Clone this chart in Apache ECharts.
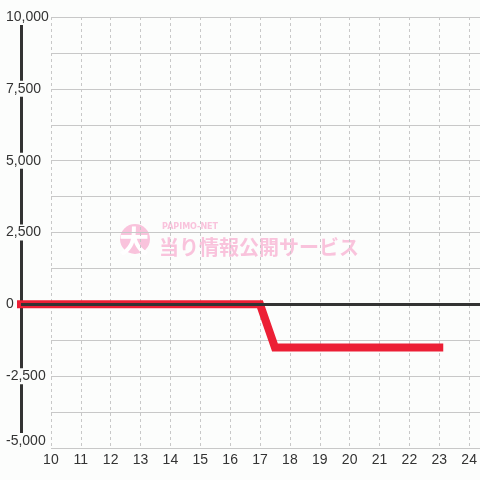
<!DOCTYPE html>
<html>
<head>
<meta charset="utf-8">
<script src="https://cdn.jsdelivr.net/npm/echarts@6/dist/echarts.min.js"></script>
<style>
  html, body { margin: 0; padding: 0; background: #fcfdfc; }
  #main { width: 480px; height: 480px; }
</style>
</head>
<body>
<div id="main"></div>
<script>
  // data
  const hours = [9, 17, 17.5, 23];
  const balance = [0, 0, -1500, -1500];
  const yMin = -5000, yMax = 10000, yStep = 2500, gridStep = 1250;
  const xMin = 9, xMax = 25;
  const xLabelFrom = 10, xLabelTo = 24;

  const bg = '#fcfdfc';
  const font = 'Liberation Sans, Arial, sans-serif';
  const pink = '#f9c3dc';

  let chart = echarts.init(document.getElementById('main'));
  let option = {
    backgroundColor: bg,
    animation: false,
    grid: [
      { left: 21, right: -19, top: 17, bottom: 32, outerBoundsMode: 'none' },
      { left: 51, right: 0, top: 17, bottom: 32, outerBoundsMode: 'none' }
    ],
    xAxis: [{
      type: 'value',
      gridIndex: 0,
      min: xMin,
      max: xMax,
      interval: 1,
      axisLine: { show: false },
      axisTick: { show: false },
      axisLabel: {
        margin: 5,
        fontSize: 14,
        color: '#333',
        fontFamily: font,
        formatter: v => (v >= xLabelFrom && v <= xLabelTo) ? String(v) : ''
      },
      splitLine: { lineStyle: { color: '#c8c8c8', type: [3, 3], width: 1 } }
    }, {
      type: 'value',
      gridIndex: 1,
      min: 0,
      max: 1,
      show: false
    }],
    yAxis: [{
      type: 'value',
      gridIndex: 0,
      min: yMin,
      max: yMax,
      interval: yStep,
      axisLine: { show: true, lineStyle: { color: '#333', width: 3 } },
      axisTick: { show: false },
      splitLine: { show: false },
      axisLabel: {
        margin: 15,
        align: 'left',
        fontSize: 14,
        color: '#333',
        fontFamily: font,
        backgroundColor: bg,
        padding: [1, 0, 1, 0],
        formatter: v => {
          let s = v.toLocaleString('en-US');
          return v === yMin ? '{low|' + s + '}' : s;
        },
        rich: {
          low: { fontSize: 14, color: '#333', fontFamily: font, padding: [0, 0, 14, 0] }
        }
      }
    }, {
      // gridlines only, starting at x = 10
      type: 'value',
      gridIndex: 1,
      min: yMin,
      max: yMax,
      interval: gridStep,
      axisLine: { show: false },
      axisTick: { show: false },
      axisLabel: { show: false },
      splitLine: { lineStyle: { color: '#c8c8c8', width: 1 } }
    }],
    graphic: [
      { type: 'circle', z: -1, shape: { cx: 135, cy: 239, r: 15 }, style: { fill: pink } },
      { type: 'text', z: -1, x: 134, y: 241, style: { text: '大', fill: '#fff', font: 'bold 30px "Noto Sans CJK JP"', align: 'center', verticalAlign: 'middle' } },
      { type: 'text', z: -1, x: 162, y: 227, style: { text: 'PAPIMO-NET', fill: pink, font: 'bold 8px "DejaVu Sans"', verticalAlign: 'middle' } },
      { type: 'text', z: -1, x: 159, y: 247, style: { text: '当り情報公開サービス', fill: pink, font: 'bold 20px "Noto Sans CJK JP"', verticalAlign: 'middle' } }
    ],
    series: [{
      // zero line
      type: 'line',
      xAxisIndex: 0,
      yAxisIndex: 0,
      data: [],
      z: 1,
      markLine: {
        silent: true,
        symbol: 'none',
        label: { show: false },
        lineStyle: { color: '#333', width: 3, type: 'solid' },
        data: [{ yAxis: 0 }]
      }
    }, {
      type: 'line',
      xAxisIndex: 0,
      yAxisIndex: 0,
      z: 3,
      symbol: 'none',
      lineStyle: { color: '#ec1f35', width: 8, cap: 'square', join: 'miter' },
      data: hours.map((h, i) => [h, balance[i]])
    }]
  };
  chart.setOption(option);
</script>
</body>
</html>
